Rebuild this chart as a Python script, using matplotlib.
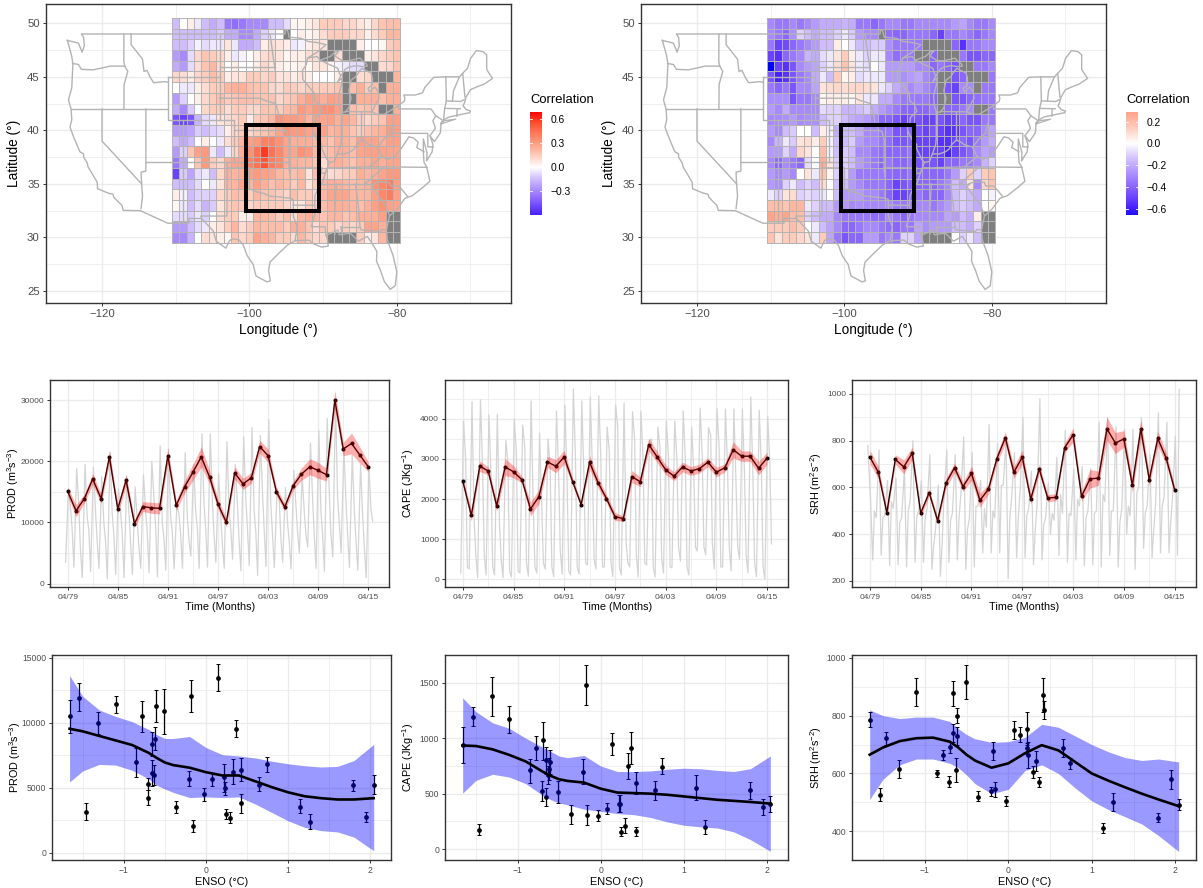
import numpy as np
import matplotlib
matplotlib.use("Agg")
import matplotlib.pyplot as plt
from matplotlib.colors import LinearSegmentedColormap, Normalize
from matplotlib.ticker import FixedLocator

plt.rcParams['font.family'] = ['Liberation Sans', 'DejaVu Sans']
plt.rcParams['mathtext.fontset'] = 'custom'
plt.rcParams['mathtext.rm'] = 'Liberation Sans'
plt.rcParams['mathtext.it'] = 'Liberation Sans'
plt.rcParams['mathtext.default'] = 'regular'

W, H = 1203, 888
n = np.nan

# correlation x 100, rows from 50N to 30N, columns from 110W to 80W
lon_cells = np.arange(-110, -79)
lat_cells = np.arange(50, 29, -1)
corr_left = [
    [-15,0,5,-5,-15,-20,-15,-35,-38,-35,-30,-30,-30,-15,-15,-8,3,3,5,8,15,15,15,12,12,8,5,12,18,20,20],
    [-15,-15,-15,-15,-15,-15,-12,-20,-20,-30,-30,-20,-10,-5,0,n,0,5,3,5,10,15,15,15,12,12,5,10,15,22,22],
    [-15,-15,-10,-3,-8,-5,-5,8,-5,-20,-20,-15,5,10,8,5,-5,-3,5,8,8,n,n,n,n,5,0,0,3,15,18],
    [-25,-30,-8,12,18,15,12,5,-5,-3,0,5,10,12,8,3,5,5,10,10,n,n,10,n,n,n,5,8,12,15,18],
    [-20,-25,-8,10,18,22,12,0,5,0,0,5,12,8,5,3,3,5,3,8,8,3,-3,-5,-8,-8,n,n,10,12,18],
    [12,10,5,12,15,20,15,5,8,8,15,15,12,15,8,8,5,8,5,0,0,0,5,n,n,10,12,n,n,n,22],
    [0,-5,-5,5,10,15,15,22,25,25,20,18,18,12,10,15,15,12,15,15,15,15,18,n,20,25,15,20,n,25,25],
    [-25,-10,0,5,12,15,20,15,18,20,20,18,18,18,12,15,18,25,30,28,25,30,28,n,n,25,25,25,20,25,25],
    [-20,-30,-12,0,12,15,15,10,15,15,12,12,18,18,15,20,22,32,28,32,35,35,30,n,20,18,20,18,n,n,25],
    [-45,-50,-45,-18,-8,-5,8,10,12,15,5,15,18,22,35,32,32,30,22,30,28,30,25,28,22,15,12,15,18,30,30],
    [-25,-25,-22,-12,-15,-10,-8,5,12,15,12,15,18,22,28,35,32,32,28,28,30,22,25,25,18,15,20,22,25,32,30],
    [-15,-20,-15,0,5,0,-5,10,15,22,30,32,40,40,35,28,25,25,25,22,22,18,25,25,20,30,28,28,25,30,30],
    [-25,-10,18,30,32,-5,-15,-5,12,25,35,45,60,45,38,30,28,35,32,22,18,20,25,25,20,28,30,30,28,28,28],
    [-35,-20,0,18,32,15,12,25,28,28,40,45,55,42,38,25,25,22,22,18,10,22,25,22,18,25,25,28,25,28,28],
    [-50,-12,-22,-8,-5,-15,12,25,22,25,30,32,30,28,22,20,20,22,8,20,15,10,12,15,15,25,22,25,28,32,32],
    [-15,-15,-15,-8,0,-5,8,22,22,28,22,30,25,20,22,20,15,22,8,15,22,25,25,22,20,22,25,35,38,42,30],
    [5,-3,-15,-10,-10,-10,12,15,20,18,15,22,18,18,15,12,20,15,15,10,22,28,28,28,22,22,22,30,38,42,30],
    [3,-5,-15,-8,-18,-12,8,15,18,15,12,15,15,15,15,12,8,8,15,12,20,25,25,25,22,20,25,30,35,30,28],
    [-8,-8,-12,-5,-10,0,10,15,15,5,5,22,22,20,15,20,10,22,25,22,18,22,22,18,20,25,25,25,30,n,n],
    [-25,-25,-15,-8,-5,5,8,15,22,10,15,22,20,20,20,15,25,25,18,10,18,15,12,15,12,15,28,28,25,n,n],
    [-30,-30,-18,0,10,8,5,3,18,12,15,28,25,22,15,15,10,22,15,12,12,n,n,n,n,15,5,8,22,n,n],
]
corr_right = [
    [-30,-35,-35,-30,-35,-30,-25,-20,-20,-20,-18,-20,-35,-35,-40,-35,-30,-30,-35,-35,-30,-30,-30,-30,-30,-25,-22,-30,-35,-35,-30],
    [-30,-35,-40,-28,-10,-15,-20,-15,-15,-10,-5,-12,-25,-30,-30,n,-38,-40,-40,-35,-35,-35,-40,-50,-35,-35,-30,-35,-40,-35,-30],
    [-35,-50,-48,-40,-35,-30,-25,-15,-15,5,0,-5,-15,-15,-12,-12,-28,-35,-35,-35,-35,n,n,n,n,-40,-55,-35,-35,-30,-30],
    [-50,-55,-40,-35,-30,-18,-20,-8,-5,8,15,5,-5,-10,-5,-5,-30,-38,-35,-35,n,n,-40,n,n,n,-35,-45,-45,-40,-40],
    [-70,-50,-55,-45,-30,-25,-22,-10,-5,10,18,8,-5,-8,0,-5,-25,-25,-25,-25,-30,-30,-40,-35,-40,-45,n,n,-35,-35,-30],
    [-45,-60,-55,-45,-35,-30,-20,-5,-15,15,3,5,-8,-5,-5,-5,-25,-25,-28,-25,-22,-30,-35,n,n,-45,-40,n,n,n,-35],
    [-35,-40,-35,-45,-30,-30,-22,8,10,12,10,12,12,10,8,-5,-10,-20,-25,-30,-25,-30,-35,n,-45,-50,-30,-30,n,-35,-35],
    [-28,-28,-28,-45,-35,-35,-30,3,5,5,5,3,8,-5,-5,-20,-20,-30,-35,-35,-35,-35,-40,n,n,-45,-45,-40,-38,-35,-35],
    [-25,-30,-20,-30,-30,-30,-30,-8,-10,-10,-18,-18,-15,-12,-20,-25,-30,-35,-40,-40,-40,-40,-35,n,-40,-40,-35,-30,n,n,-35],
    [-30,-30,-28,-25,-30,-28,-28,-15,-10,-10,-15,-20,-22,-25,-30,-40,-40,-45,-50,-45,-45,-50,-50,-45,-50,-50,-40,-45,-45,-35,-35],
    [-25,-30,-15,-12,0,0,-15,5,-3,-20,-15,-15,-20,-30,-30,-35,-35,-45,-45,-40,-45,-50,-45,-50,-55,-55,-45,-40,-40,-30,-22],
    [-30,-18,-5,-12,8,10,5,15,-3,-15,-15,-12,-25,-30,-30,-35,-38,-45,-45,-40,-50,-50,-50,-55,-55,-50,-40,-45,-35,-25,-20],
    [-25,-25,-10,-20,12,8,0,20,-3,-15,-12,-15,-30,-30,-35,-38,-40,-40,-40,-35,-50,-50,-50,-50,-60,-50,-45,-40,-30,-22,-25],
    [-30,-40,-30,-35,-40,-8,0,25,8,-12,-10,-15,-25,-30,-35,-40,-35,-40,-40,-35,-45,-45,-45,-50,-40,-40,-35,-35,-30,-18,-10],
    [-25,-30,-25,-30,0,8,-5,18,3,-10,-10,-25,-35,-35,-35,-35,-38,-40,-40,-35,-40,-40,-40,-40,-35,-25,-10,15,-10,15,18],
    [-25,-28,-10,-5,-15,-10,-15,10,0,-15,-15,-25,-30,-35,-35,-35,-40,-50,-45,-40,-40,-40,-40,-35,-30,-15,-20,8,-30,12,18],
    [-5,-10,8,10,-10,-8,-10,-5,0,-15,-25,-25,-25,-30,-30,-35,-40,-50,-50,-45,-35,-40,-40,-40,-30,-15,-10,-15,-20,0,-3],
    [20,20,18,22,22,-5,-10,-15,-15,-25,-25,-30,-28,-30,-30,-30,-30,-35,-35,-35,-30,-30,-35,-30,-25,-15,-12,-15,-20,0,3],
    [28,25,28,20,20,-10,-15,-20,-20,-30,-35,-35,-35,-35,-38,-38,-30,-35,-40,-35,-30,-30,-30,-30,-22,-25,-15,-20,5,n,n],
    [15,15,15,20,15,0,-5,-15,-22,-30,-40,-40,-35,-30,-30,-35,-38,-40,-35,-35,-22,-28,-25,-25,-25,-15,-15,-20,-10,n,n],
    [18,8,15,15,12,8,-5,15,-22,-35,-45,-40,-40,-25,-25,-35,-30,-35,-10,-10,-22,n,n,n,n,0,-10,-5,-15,n,n],
]

# coast and border, rough lon/lat
us_outline = [(-124.7,48.4),(-123.2,48.15),(-122.7,47.3),(-122.4,47.9),(-122.5,48.7),(-122.8,49),(-95.15,49),(-95.15,49.4),(-94.8,49.3),
    (-94.6,48.7),(-93,48.6),(-92,48.3),(-90.8,48.2),(-89.6,48),(-90.8,47.3),(-92.1,46.75),(-90.8,46.9),(-90.4,46.55),(-89,46.9),(-88.4,47.3),
    (-87.8,47.47),(-88.4,46.95),(-87.4,46.5),(-86.5,46.5),(-85,46.75),(-84.6,46.45),(-84.1,46.2),(-84,46),(-84.7,45.95),(-85.5,46.05),
    (-86.5,45.9),(-87,45.7),(-87.6,45.1),(-88,44.55),(-87.4,44.9),(-87.5,44.3),(-87.9,43.2),(-87.8,42.3),(-87.5,41.7),(-87,41.7),
    (-86.5,42.1),(-86.2,43),(-86.5,43.7),(-86.2,44.7),(-85.6,45),(-85,45.6),(-84.7,45.78),(-83.5,45.35),(-83.3,44.9),(-83.3,44.3),
    (-83.9,43.9),(-83.7,43.6),(-83,44.05),(-82.5,43.6),(-82.4,43),(-82.9,42.4),(-83.1,42.1),(-83.4,41.75),(-82.7,41.5),(-81.7,41.5),
    (-80.5,42),(-79,42.7),(-78.9,43),(-79.05,43.3),(-77.5,43.3),(-76.5,43.5),(-76.2,44),(-75,44.95),(-73.35,45),(-71.5,45),
    (-71.1,45.3),(-70.4,45.8),(-70,46.7),(-69.2,47.45),(-68.3,47.35),(-67.8,47.05),(-67.8,45.7),(-67.45,45.3),(-67,44.85),(-68.2,44.3),
    (-69,44.1),(-70,43.8),(-70.6,43.1),(-70.8,42.6),(-71,42.3),(-70.6,41.95),(-70,41.8),(-70.1,41.65),(-71.2,41.5),(-72.9,41.25),
    (-73.7,40.95),(-74,40.7),(-74,40.45),(-74.1,39.75),(-74.9,38.95),(-75.5,39.5),(-75.1,38.7),(-75.2,38),(-75.95,37.15),(-75.9,37.9),
    (-76.4,39.2),(-76.4,38),(-76.3,37),(-75.95,36.6),(-75.5,35.25),(-76.5,34.65),(-77.9,33.9),(-78.9,33.65),(-79.9,32.7),(-81,32),
    (-81.4,30.7),(-81.3,29.8),(-80.5,28.3),(-80,26.8),(-80.2,25.5),(-80.9,25.15),(-81.7,25.9),(-82.2,26.9),(-82.75,27.8),(-82.7,28.7),
    (-83.4,29.5),(-84,30.1),(-85.2,29.65),(-86.3,30.4),(-87.8,30.25),(-88,30.7),(-88.9,30.4),(-89.6,30.2),(-89.4,29.8),(-89.3,29.2),
    (-90.2,29.1),(-91.3,29.4),(-91.9,29.75),(-93.8,29.7),(-94.8,29.3),(-95.9,28.6),(-97.2,27.7),(-97.4,26.9),(-97.15,25.95),(-97.6,25.85),
    (-99.1,26.4),(-99.5,27.5),(-100.3,28.3),(-100.8,29.25),(-101.4,29.77),(-102.3,29.88),(-102.7,29.7),(-103.2,29),(-104.5,29.65),(-104.9,30.6),
    (-106.5,31.77),(-108.2,31.78),(-108.2,31.33),(-111.07,31.33),(-114.8,32.5),(-117.12,32.53),(-117.3,33),(-118.4,33.75),(-118.5,34.03),(-119.2,34.15),
    (-120.6,34.55),(-120.65,35.15),(-121.9,36.6),(-122,36.95),(-122.5,37.5),(-122.5,37.8),(-123,38),(-123.8,39.3),(-124.35,40.3),(-124.1,41),
    (-124.2,42),(-124.55,42.85),(-124.1,44),(-123.95,46.2),(-124.1,46.9),(-124.7,48.4)]
long_island = [(-74,40.6),(-72,41.05),(-73.6,40.9),(-74,40.6)]
state_lines = [
    [(-124,46.25),(-123.2,46.15),(-122.8,45.7),(-121.2,45.65),(-119.3,45.93),(-118.98,46),(-116.92,46)],
    [(-117.03,49),(-117.04,46.4),(-116.92,46),(-116.5,45.5),(-117,44.3),(-117.03,42)],
    [(-124.2,42),(-111.05,42)],
    [(-116.05,49),(-116.05,48),(-114.5,46.65),(-114.3,45.5),(-113.9,45.6),(-113.45,44.95),(-113,44.45),(-111.5,44.55),(-111.05,44.5)],
    [(-111.05,45),(-111.05,41),(-104.05,41)],
    [(-111.05,45),(-104.05,45)],
    [(-104.05,49),(-104.05,41),(-102.05,41),(-102.05,37)],
    [(-104.05,45.94),(-96.56,45.94)],
    [(-104.05,43),(-98.5,43),(-97.9,42.8),(-96.45,42.5),(-96.1,41.7),(-95.85,40.7),(-95.3,40),(-94.9,39.9),(-94.6,39.1),(-94.62,36.5),(-90.15,36.5),(-90.37,36),(-89.7,36)],
    [(-114.05,42),(-114.05,36.2),(-114.7,36.1),(-114.63,35),(-114.5,33.9),(-114.7,32.7)],
    [(-114.05,37),(-94.62,37)],
    [(-109.05,41),(-109.05,31.33)],
    [(-102.05,40),(-95.3,40)],
    [(-103,37),(-103,36.5),(-103.05,32),(-106.6,32),(-106.5,31.77)],
    [(-103,36.5),(-100,36.5),(-100,34.56),(-99.2,34.3),(-98,34.1),(-97.2,33.85),(-96,33.8),(-94.5,33.65),(-94.04,33.55),(-94.04,32),(-93.5,31),(-93.8,29.7)],
    [(-94.43,35.4),(-94.62,36.5)],
    [(-94.43,35.4),(-94.48,33.65)],
    [(-94.04,33.02),(-91.15,33)],
    [(-96.45,43.5),(-91.22,43.5)],
    [(-95.77,40.58),(-91.7,40.6),(-91.45,40.38)],
    [(-97.2,49),(-96.8,47),(-96.56,45.94),(-96.45,45.3),(-96.45,42.5)],
    [(-92.1,46.75),(-92.3,46.1),(-92.8,45.6),(-92.75,44.75),(-91.22,43.5),(-91.1,42.7),(-90.6,42.5),(-90.15,41.8),(-91.05,41.2),(-91.1,40.7),(-91.45,40.38),
     (-91.4,39.9),(-90.7,39),(-90.2,38.7),(-90.2,38.3),(-89.5,37.3),(-89.15,37),(-89.7,36),(-90.1,35.1),(-90.6,34.7),(-91.1,33.9),(-91.15,33),(-91,32.4),(-91.6,31),(-89.75,31),(-89.6,30.2)],
    [(-90.6,42.5),(-87.8,42.5)],
    [(-90.4,46.55),(-89,46.1),(-88,45.8),(-87.8,45.35),(-87.6,45.1)],
    [(-87.53,41.7),(-87.53,39.3),(-87.6,38.7),(-88.05,37.8)],
    [(-89.15,37),(-88.45,37.1),(-88.05,37.8),(-87.1,37.8),(-86.3,38),(-85.8,38.25),(-85.4,38.7),(-84.8,39.1),(-84.3,38.95),(-83.7,38.65),(-82.6,38.45),(-82,38.95),(-81.75,39.2),(-80.87,39.7),(-80.52,40.64)],
    [(-82.6,38.4),(-82,37.55),(-83.7,36.6)],
    [(-89.4,36.5),(-88.05,36.5),(-83.7,36.6),(-81.7,36.59),(-75.9,36.55)],
    [(-82,37.55),(-81.3,37.3),(-80.3,37.5),(-79.3,38.4),(-78.35,39.4),(-77.75,39.3),(-77.1,38.9),(-77.3,38.4),(-76.3,38)],
    [(-80.52,39.72),(-75.79,39.72),(-75.79,38.46),(-75.05,38.45)],
    [(-80.52,42),(-80.52,39.72)],
    [(-84.8,39.1),(-84.8,41.76)],
    [(-87,41.76),(-83.45,41.73)],
    [(-79.76,42.25),(-79.76,42),(-75.35,42),(-74.7,41.36),(-73.9,41)],
    [(-74.7,41.36),(-75.1,40.9),(-74.75,40.2),(-75.5,39.5)],
    [(-73.65,41),(-73.5,42.05),(-73.27,42.75),(-73.35,45)],
    [(-73.5,42.05),(-71.38,42.02)],
    [(-71.8,42.02),(-71.85,41.32)],
    [(-73.27,42.75),(-71.3,42.7),(-70.85,42.87)],
    [(-72.45,42.73),(-72.3,43.7),(-71.5,45)],
    [(-70.75,43.1),(-71.05,45.3)],
    [(-90.3,35),(-84.3,35),(-83.1,35)],
    [(-81.7,36.59),(-82.6,36.05),(-84.3,35)],
    [(-83.1,35),(-82.4,35.2),(-81,35.15),(-80.8,34.8),(-79.7,34.8),(-78.55,33.85)],
    [(-83.1,35),(-83.35,34.7),(-82.5,33.9),(-81.5,33),(-81,32.05)],
    [(-85.6,34.98),(-85.2,32.85),(-85,31),(-84.85,30.7),(-82.2,30.57),(-82,30.75),(-81.45,30.7)],
    [(-87.6,31),(-85,31)],
    [(-87.6,31),(-87.45,30.4)],
    [(-88.2,35),(-88.45,31.9),(-88.4,30.3)],
    [(-120,42),(-120,39),(-114.63,35)],
]

# yearly April means and ribbon half widths
years = np.arange(1979, 2016)
prod_mean = [15100,11900,13900,17100,13900,20700,12200,16900,9800,12600,12400,12300,20900,12800,15800,18200,20700,17400,13000,10000,18100,16300,17300,22400,20900,15000,12500,16000,17900,19100,18500,17800,30000,22000,22900,21000,19100]
prod_half = [700,1000,700,900,800,1000,700,1000,600,800,900,900,1200,800,1000,1300,1600,1100,800,700,1000,900,900,1000,1100,700,600,700,1000,1300,1300,1000,1600,1100,1700,1300,800]
cape_mean = [2440,1590,2820,2700,1830,2800,2680,2480,1750,2060,2930,2820,3050,2430,1860,2920,2410,2010,1560,1510,2560,2430,3360,3050,2730,2570,2800,2700,2760,2920,2670,2780,3230,3070,3070,2770,3020]
cape_half = [60,140,130,100,130,210,150,80,170,170,140,160,170,80,60,170,130,100,100,70,150,120,160,140,120,110,120,110,110,110,120,100,200,130,130,170,150]
srh_mean = [730,665,492,720,688,747,490,578,458,620,685,604,660,545,593,724,813,665,730,550,680,555,558,770,825,562,637,640,851,790,808,610,851,633,810,725,590]
srh_half = [30,25,15,20,30,25,15,15,15,20,20,20,30,30,20,20,25,25,30,20,20,15,15,20,30,20,40,30,50,45,35,30,40,25,30,25,15]

# background monthly series, four readings per year
prod_gray = [3500,15000,12600,9000, 2700,18800,13000,5500, 1000,19500,11000,8800, 2000,19000,12000,7000, 2500,17500,10000,7000,
    800,21500,11500,8000, 1500,15500,12000,8300, 1000,17500,12000,6800, 1500,15800,10500,6000, 2500,17800,12000,8500,
    1800,20000,14000,9500, 1100,22500,10000,7500, 2200,22000,11000,8500, 2400,13000,11300,8000, 2500,21400,11000,7000,
    4500,19500,12000,9000, 2500,24500,13000,9000, 2700,24500,13500,8000, 3500,18000,11000,6500, 2500,23200,12000,9000,
    4000,19500,13000,7000, 2100,24000,14000,9000, 3000,25500,12000,8500, 1300,24200,15000,9000, 2800,26800,13000,8000,
    2600,15500,14000,7500, 3500,15700,10000,7000, 2400,18500,13000,8500, 5000,17500,12000,8000, 6000,23000,14000,8000,
    2500,25000,12000,8000, 2000,27000,15000,8000, 4400,30000,14000,10000, 5000,22000,13500,8000, 2600,21000,12000,7000,
    2200,19500,11000,6000, 1000,19000,12000,10200]
cape_gray = [150,3950,3000,300, 250,4430,1500,600, 30,4480,2800,600, 100,4100,2600,300, 100,4120,1400,500,
    30,3470,2900,200, 50,4000,3200,200, 150,3850,3300,400, 70,4450,1800,300, 150,3650,1800,400,
    250,3500,2800,300, 60,4200,2700,700, 120,4350,2500,200, 100,4750,3000,300, 120,4450,2500,400,
    350,4550,2800,500, 250,4580,3000,300, 300,3800,3200,400, 60,4350,3800,300, 100,4400,900,400,
    300,4180,3500,600, 50,4200,3000,400, 350,3450,3500,300, 50,3800,3300,500, 150,3950,3100,300,
    280,3950,3000,800, 450,4200,3000,300, 100,3800,2700,800, 700,4270,3100,800, 600,3780,3600,900,
    250,4260,3300,300, 300,4250,2800,800, 200,4250,2400,800, 500,4250,2700,600, 150,4550,2600,400,
    60,4220,2800,300, 0,4070,2900,880]
srh_gray = [780,540,290,500, 470,760,310,470, 480,630,265,540, 510,640,270,450, 470,680,260,500,
    540,800,280,470, 500,630,280,470, 510,740,250,350, 420,610,220,360, 560,760,280,460,
    490,740,290,470, 570,815,250,420, 470,750,260,520, 520,630,320,510, 430,870,320,500,
    470,790,320,610, 610,800,210,470, 560,750,300,470, 590,900,300,480, 510,670,270,420,
    530,980,290,440, 470,620,400,490, 460,730,310,570, 490,845,280,490, 480,680,290,550,
    520,690,265,470, 500,680,270,490, 500,880,260,570, 540,900,310,500, 500,860,260,450,
    510,850,400,520, 480,850,250,580, 600,900,340,490, 520,740,300,420, 530,920,320,520,
    560,880,320,450, 560,820,310,1020]
gray_month = [0.0, 0.33, 0.58, 0.78]

# ENSO scatter with error bars
enso = [-1.66,-1.54,-1.46,-1.31,-1.10,-0.85,-0.78,-0.71,-0.70,-0.66,-0.66,-0.63,-0.62,-0.61,-0.51,-0.36,-0.21,-0.18,-0.16,-0.03,0.07,0.14,0.22,0.23,0.24,0.29,0.33,0.37,0.42,0.43,0.65,0.74,1.14,1.26,1.79,1.95,2.04]
prod_pts = [10500,11950,3150,10000,11450,6950,10500,5300,4250,8350,6150,5950,8750,11300,10900,3500,5700,12100,2050,4500,5650,13450,5800,4950,3000,2700,6250,9550,6400,3800,5250,6800,3550,2400,5200,2750,5200]
prod_lo = [9200,10900,2500,9150,10800,5850,9300,4850,3700,7450,5150,5200,7900,10100,9150,3050,5150,10850,1600,4000,5150,12450,4700,4450,2600,2300,5300,8900,5550,3050,4750,6200,3050,1800,4750,2350,4500]
prod_hi = [11800,13050,3800,10850,12100,8100,11700,5750,4800,9300,7150,6750,9650,12500,12650,3950,6300,13300,2500,5000,6150,14500,6850,5450,3400,3100,7200,10200,7300,4500,5800,7350,4100,3000,5600,3150,5950]
cape_pts = [940,1195,175,1380,1170,710,915,520,980,800,470,670,720,785,515,315,700,1485,310,300,365,950,410,410,155,210,750,915,595,160,530,745,555,200,530,380,410]
cape_lo = [775,1110,125,1200,1045,600,800,435,805,680,385,590,620,680,420,230,585,1300,220,250,315,850,330,330,115,145,630,770,495,120,440,675,445,140,450,305,335]
cape_hi = [1100,1280,230,1555,1295,815,1025,610,1150,920,555,750,820,890,610,395,815,1665,400,355,415,1050,490,490,195,280,870,1055,695,200,615,820,670,260,605,455,480]
srh_pts = [785,527,722,615,882,600,665,570,690,740,877,612,730,800,918,520,538,677,545,505,750,733,687,755,663,605,642,570,870,818,687,635,412,502,447,580,492]
srh_lo = [760,505,698,585,835,587,648,552,672,708,835,572,697,775,858,505,523,645,518,487,720,708,667,700,618,585,610,552,812,788,657,615,395,470,432,546,475]
srh_hi = [812,550,745,645,930,612,682,590,708,772,920,652,762,825,977,538,553,708,572,523,780,760,707,812,708,625,677,588,930,850,718,655,430,533,462,613,510]

fit_x = [-1.66,-1.5,-1.3,-1.1,-0.9,-0.7,-0.6,-0.5,-0.4,-0.2,0,0.2,0.4,0.6,0.8,1.0,1.2,1.4,1.6,1.8,2.04]
prod_fit = [9550,9350,9000,8650,8300,7700,7300,6950,6750,6550,6200,5950,5950,5500,5050,4650,4350,4200,4100,4100,4200]
prod_up = [13650,12050,11000,10500,10100,9500,9100,8800,8800,8950,8100,7550,7450,7300,7050,6850,6700,6600,6650,7100,8350]
prod_dn = [5450,6300,6800,6750,6350,5700,5200,4900,4650,4250,4300,4250,4300,3750,3100,2450,1950,1700,1600,1200,150]
cape_fit = [935,930,900,850,790,700,660,630,615,600,545,510,505,500,490,475,460,445,435,425,410]
cape_up = [1365,1240,1140,1090,1000,920,880,840,825,845,750,700,700,705,720,730,725,710,700,725,840]
cape_dn = [505,620,675,650,590,485,445,415,400,360,340,320,310,285,245,215,200,190,155,85,-20]
srh_fit = [665,690,712,722,724,710,690,665,645,620,635,670,698,680,640,600,575,552,530,510,487]
srh_up = [820,800,790,795,795,780,755,735,720,708,710,725,770,760,730,700,675,655,645,650,640]
srh_dn = [510,580,630,650,650,635,620,595,565,530,545,610,630,600,550,505,475,450,425,385,330]

corr_cmap = LinearSegmentedColormap.from_list('corr', [
    (0.0, '#0000FF'), (0.075, '#4A22FF'), (0.2, '#855FFF'), (0.3, '#AC8FFF'), (0.4, '#D2C0FF'), (0.5, '#FFFFFF'),
    (0.6, '#FFCFC0'), (0.7, '#FFA58C'), (0.8, '#FF7B5C'), (0.9, '#FF4F30'), (1.0, '#FF0000')])
corr_cmap.set_bad('#7F7F7F')

GRID = '#EBEBEB'
TICKC = '#4D4D4D'
BORDER = '#333333'
LINEC = '#B3B3B3'

fig = plt.figure(figsize=(W / 100, H / 100), dpi=100)


def px_axes(left, top, right, bottom):
    return fig.add_axes([left / W, 1 - bottom / H, (right - left) / W, (bottom - top) / H])


def style(ax, tick_size, major_lw=1.0):
    ax.set_axisbelow(True)
    ax.grid(True, which='major', color=GRID, lw=major_lw)
    ax.grid(True, which='minor', color=GRID, lw=major_lw * 0.55)
    ax.tick_params(which='major', length=2.5, width=0.7, color=BORDER, labelsize=tick_size, labelcolor=TICKC, pad=2)
    ax.tick_params(which='minor', length=0)
    for s in ax.spines.values():
        s.set_color(BORDER)
        s.set_linewidth(1.0)


def place_ylabel(ax, text, x_px, size):
    ax.set_ylabel(text, fontsize=size, va='center')
    box = ax.get_position()
    ax.yaxis.set_label_coords((x_px / W - box.x0) / box.width, 0.5)


def map_panel(left, values, bar_left, bar_lim, bar_ticks, bar_labels):
    ax = px_axes(left, 4, left + 465, 303)
    ax.set_xlim(-127.6, -64.5)
    ax.set_ylim(23.88, 51.8)
    ax.set_xticks([-120, -100, -80], ['\u2212120', '\u2212100', '\u221280'])
    ax.set_yticks([25, 30, 35, 40, 45, 50])
    ax.xaxis.set_minor_locator(FixedLocator([-110, -90, -70]))
    ax.yaxis.set_minor_locator(FixedLocator([27.5, 32.5, 37.5, 42.5, 47.5]))
    style(ax, 8.2)
    ax.set_xlabel('Longitude (\u00b0)', fontsize=9.8, labelpad=3)
    place_ylabel(ax, 'Latitude (\u00b0)', left - 32, 9.8)

    z = np.ma.masked_invalid(np.array(values, dtype=float) / 100)
    lon_edges = np.append(lon_cells - 0.5, lon_cells[-1] + 0.5)
    lat_edges = np.append(lat_cells + 0.5, lat_cells[-1] - 0.5)
    ax.pcolormesh(lon_edges, lat_edges, z, cmap=corr_cmap, norm=Normalize(-0.7, 0.7),
                  edgecolors=LINEC, linewidth=0.7, antialiased=True, zorder=2)
    ox, oy = zip(*us_outline)
    ax.plot(ox, oy, color=LINEC, lw=1.0, zorder=3)
    ox, oy = zip(*long_island)
    ax.plot(ox, oy, color=LINEC, lw=0.9, zorder=3)
    for line in state_lines:
        ox, oy = zip(*line)
        ax.plot(ox, oy, color=LINEC, lw=1.0, zorder=3)
    ax.plot([-100.5, -90.5, -90.5, -100.5, -100.5], [32.5, 32.5, 40.5, 40.5, 32.5],
            color='black', lw=2.9, zorder=4, solid_joinstyle='miter')

    cax = px_axes(bar_left, 112, bar_left + 12, 215)
    grad = np.linspace(bar_lim[1], bar_lim[0], 200).reshape(-1, 1)
    cax.imshow(grad, aspect='auto', cmap=corr_cmap, norm=Normalize(-0.7, 0.7),
               extent=[0, 1, bar_lim[0], bar_lim[1]])
    cax.set_xticks([])
    cax.yaxis.tick_right()
    cax.set_yticks(bar_ticks, bar_labels)
    cax.tick_params(axis='y', length=0, labelsize=7.4, pad=6, labelcolor='black')
    for s in cax.spines.values():
        s.set_visible(False)
    for t in bar_ticks:
        cax.plot([0, 0.2], [t, t], color='white', lw=0.6)
        cax.plot([0.8, 1], [t, t], color='white', lw=0.6)
    cax.set_xlim(0, 1)
    cax.set_ylim(bar_lim)
    fig.text(bar_left / W, 1 - 100 / H, 'Correlation', fontsize=9.4, ha='left', va='center')


def series_panel(left, right, ylim, yticks, yminor, ylabel, label_x, gray, mean, half):
    ax = px_axes(left, 380.3, right, 587.3)
    ax.set_xlim(1977.17, 2017.77)
    ax.set_ylim(ylim)
    ticks = [1979.25 + 6 * i for i in range(7)]
    ax.set_xticks(ticks, ['04/79', '04/85', '04/91', '04/97', '04/03', '04/09', '04/15'])
    ax.set_yticks(yticks)
    ax.xaxis.set_minor_locator(FixedLocator([t + 3 for t in ticks]))
    ax.yaxis.set_minor_locator(FixedLocator(yminor))
    style(ax, 6.0)
    ax.set_xlabel('Time (Months)', fontsize=7.8, labelpad=1)
    place_ylabel(ax, ylabel, label_x, 7.8)
    gx = [1979 + i // 4 + gray_month[i % 4] for i in range(len(gray))]
    ax.plot(gx, gray, color='#D4D4D4', lw=0.9, zorder=2)
    x = years + 0.25
    m = np.array(mean)
    h = np.array(half)
    ax.plot(x, m, color='black', lw=1.0, marker='o', ms=1.9, zorder=3)
    ax.fill_between(x, m - h, m + h, color='#FF0000', alpha=0.32, lw=0, zorder=4)


def enso_panel(left, right, xlim, ylim, yticks, yminor, ylabel, label_x, pts, lo, hi, fit, up, dn):
    ax = px_axes(left, 655, right, 860)
    ax.set_xlim(xlim)
    ax.set_ylim(ylim)
    ax.set_xticks([-1, 0, 1, 2], ['\u22121', '0', '1', '2'])
    ax.set_yticks(yticks)
    ax.xaxis.set_minor_locator(FixedLocator([-1.5, -0.5, 0.5, 1.5]))
    ax.yaxis.set_minor_locator(FixedLocator(yminor))
    style(ax, 6.2)
    ax.set_xlabel('ENSO (\u00b0C)', fontsize=7.8, labelpad=1)
    place_ylabel(ax, ylabel, label_x, 7.8)
    p = np.array(pts)
    ax.errorbar(enso, p, yerr=[p - np.array(lo), np.array(hi) - p], fmt='o', color='black', ms=2.4,
                elinewidth=0.9, capsize=1.5, capthick=0.7, zorder=3)
    ax.fill_between(fit_x, dn, up, color='#0000FF', alpha=0.4, lw=0, zorder=4)
    ax.plot(fit_x, fit, color='black', lw=1.9, zorder=5)


map_panel(46, corr_left, 530, (-0.596, 0.69), [-0.3, 0.0, 0.3, 0.6], ['\u22120.3', '0.0', '0.3', '0.6'])
map_panel(641, corr_right, 1126, (-0.658, 0.289), [-0.6, -0.4, -0.2, 0.0, 0.2], ['\u22120.6', '\u22120.4', '\u22120.2', '0.0', '0.2'])

series_panel(50.3, 389.3, (-590, 33220), [0, 10000, 20000, 30000], [5000, 15000, 25000],
             'PROD (m$^3$s$^{-3}$)', 13, prod_gray, prod_mean, prod_half)
series_panel(445.3, 788.3, (-207, 4967), [0, 1000, 2000, 3000, 4000], [500, 1500, 2500, 3500, 4500],
             'CAPE (JKg$^{-1}$)', 408, cape_gray, cape_mean, cape_half)
series_panel(852.3, 1196, (173, 1058.6), [200, 400, 600, 800, 1000], [300, 500, 700, 900],
             'SRH (m$^2$s$^{-2}$)', 816, srh_gray, srh_mean, srh_half)

enso_panel(52.3, 391.3, (-1.87, 2.254), (-562, 15231), [0, 5000, 10000, 15000], [2500, 7500, 12500],
           'PROD (m$^3$s$^{-3}$)', 15, prod_pts, prod_lo, prod_hi, prod_fit, prod_up, prod_dn)
enso_panel(445.3, 788.3, (-1.869, 2.256), (-99, 1752), [0, 500, 1000, 1500], [250, 750, 1250],
           'CAPE (JKg$^{-1}$)', 408, cape_pts, cape_lo, cape_hi, cape_fit, cape_up, cape_dn)
enso_panel(852.3, 1196, (-1.868, 2.248), (300.6, 1010), [400, 600, 800, 1000], [500, 700, 900],
           'SRH (m$^2$s$^{-2}$)', 816, srh_pts, srh_lo, srh_hi, srh_fit, srh_up, srh_dn)

fig.savefig('out.png', dpi=100)
